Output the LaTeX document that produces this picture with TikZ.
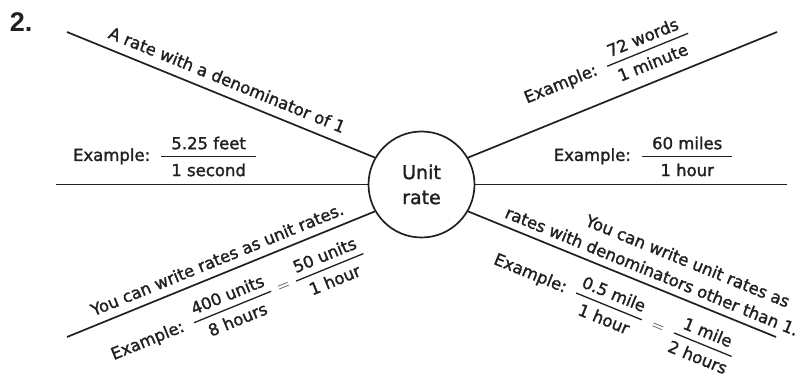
\documentclass[tikz,border=0pt]{standalone}
\usepackage{amsmath}
\usepackage{fontspec}
\setmainfont{DejaVu Sans}[BoldFont={DejaVu Sans}, BoldFeatures={FakeBold=1.6}]
\newfontfamily\numfont{Liberation Sans}
\definecolor{ink}{RGB}{35,31,32}
\newcommand\fr[3][10pt]{$\genfrac{}{}{1.3pt}{0}{\text{\hspace{#1}#2\hspace{#1}}}{\text{\rule{0pt}{15pt}#3}}$}
\begin{document}
\begin{tikzpicture}[x=1pt,y=-1pt,line width=1.7pt,color=ink,
  txt/.style={font=\fontsize{16.5}{20}\selectfont\bfseries, inner sep=0pt, text=ink},
  hub/.style={circle, draw=ink, minimum size=106pt, inner sep=0pt, align=center,
    text=ink, font=\fontsize{19}{25}\selectfont\bfseries}]
\useasboundingbox (0,0) rectangle (807,377);
\node[hub] (ur) at (421.5,184.5) {Unit\\rate};
\coordinate (ul) at (67,32);
\coordinate (lh) at (56,184.5);
\coordinate (ll) at (67,337);
\coordinate (urt) at (777,32);
\coordinate (rh) at (787,184.5);
\coordinate (lr) at (776,337);
\draw (ul) -- (ur.150)
  node[txt, pos=0.5, sloped, above=9pt] {A rate with a denominator of 1};
\draw (lh) -- (ur.180)
  node[txt, pos=0.35, above=7.3pt] {Example:\hspace{10pt}\fr{5.25 feet}{1 second}};
\draw (ur.30) -- (urt)
  node[txt, pos=0.49, sloped, above=11.6pt] {Example:\hspace{10pt}\fr[6pt]{72 words}{1 minute}};
\draw (ur.0) -- (rh)
  node[txt, pos=0.54, above=7.3pt] {Example:\hspace{10pt}\fr{60 miles}{1 hour}};
\draw (ll) -- (ur.210)
  node[txt, pos=0.506, sloped, above=8pt] {You can write rates as unit rates.}
  node[txt, pos=0.514, sloped, below=14pt] {Example:\hspace{10pt}\fr[3pt]{400 units}{8 hours}\hspace{6pt}$=$\hspace{6pt}\fr[3pt]{50 units}{1 hour}};
\draw (ur.330) -- (lr)
  node[txt, pos=0.58, sloped, above=7pt] {rates with denominators other than 1.}
  node[txt, pos=0.668, sloped, above=30pt] {You can write unit rates as}
  node[txt, pos=0.515, sloped, below=14pt] {Example:\hspace{10pt}\fr[2pt]{0.5 mile}{1 hour}\hspace{10pt}$=$\hspace{10pt}\fr[2pt]{1 mile}{2 hours}};
\node[anchor=base west, inner sep=0pt, text=ink, font=\numfont\bfseries\fontsize{27}{30}\selectfont] (num) at (9,32) {2.};
\end{tikzpicture}
\end{document}
